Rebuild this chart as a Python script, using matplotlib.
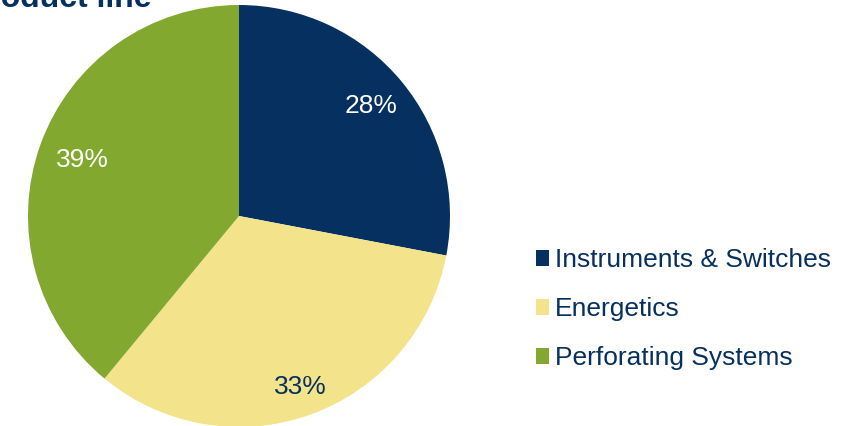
import matplotlib.pyplot as plt
import numpy as np

plt.rcParams['font.family'] = ['Liberation Sans', 'DejaVu Sans']

categories = ["Instruments & Switches", "Energetics", "Perforating Systems"]
shares = [28, 33, 39]
colors = ["#06305F", "#F3E48C", "#83A82F"]
label_colors = ["white", "#06305F", "white"]
label_radius = [0.815, 0.86, 0.79]
navy = "#06305F"

fig = plt.figure(figsize=(8.48, 4.26), dpi=100)
ax = fig.add_axes([28 / 848, -1 / 426, 422 / 848, 422 / 426])

wedges, texts, autotexts = ax.pie(
    shares, colors=colors, startangle=90, counterclock=False,
    autopct='%1.0f%%', pctdistance=0.8, radius=1,
    wedgeprops=dict(linewidth=0),
    textprops=dict(fontsize=19),
)
for w, t, c, r in zip(wedges, autotexts, label_colors, label_radius):
    mid = np.deg2rad((w.theta1 + w.theta2) / 2)
    t.set_position((r * np.cos(mid), r * np.sin(mid)))
    t.set_color(c)
ax.set_xlim(-1, 1)
ax.set_ylim(-1, 1)

# title runs off the top-left edge, as in the original slide crop
fig.text(152 / 848, 1 - 7 / 426, "Revenue by product line", ha='right',
         va='baseline', fontsize=23, fontweight='bold', color=navy)

leg = fig.legend(wedges, categories, loc='upper left',
                 bbox_to_anchor=(523 / 848, 1 - 235 / 426), frameon=False,
                 fontsize=19, handlelength=0.5, handleheight=0.6,
                 handletextpad=0.2, labelspacing=0.95, borderpad=0)
for t in leg.get_texts():
    t.set_color(navy)

fig.savefig("out.png", dpi=100)
